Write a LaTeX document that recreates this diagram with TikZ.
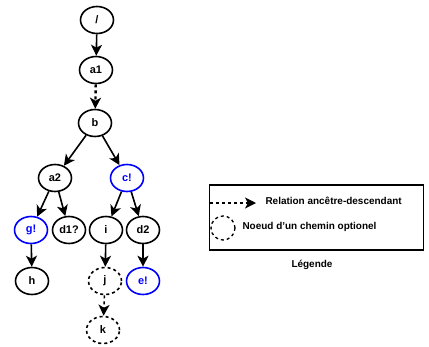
\documentclass[tikz,border=0pt]{standalone}
\usepackage{fontspec}
\setmainfont{Liberation Sans}
\usetikzlibrary{arrows.meta,shapes.geometric}

\tikzset{
    nd/.style={ellipse,draw,line width=1.6bp,minimum width=33bp,minimum height=27bp,inner sep=1pt,font=\bfseries\fontsize{11}{13}\selectfont},
    opt/.style={nd,dash pattern=on 3bp off 3bp},
    blu/.style={nd,draw=blue,text=blue},
    arr/.style={line width=1.6bp,-{Stealth[length=11bp,width=11bp,inset=3bp]}},
    darr/.style={arr,dash pattern=on 3bp off 3bp},
    legtxt/.style={font=\bfseries\fontsize{10}{12}\selectfont}
}

\begin{document}
\begin{tikzpicture}[x=1bp,y=-1bp]
                \useasboundingbox (0,0) rectangle (429,347);
                \node[nd] (root) at (97,20) {/};
                \node[nd] (a1) at (96,70) {a1};
                \node[nd] (b) at (95,123) {b};
                \node[nd] (a2) at (55,178) {a2};
                \node[blu] (c) at (127,178) {c!};
                \node[blu] (g) at (31,230) {g!};
                \node[nd] (d1) at (69,230) {d1?};
                \node[nd] (i) at (106,230) {i};
                \node[nd] (d2) at (143,230) {d2};
                \node[nd] (h) at (32,281) {h};
                \node[opt] (j) at (105,281) {j};
                \node[blu] (e) at (143,281) {e!};
                \node[opt] (k) at (103,330) {k};
                
                \draw[arr] (root) -- (a1);
                \draw[darr,line width=2.4bp] (a1) -- (b);
                \foreach \s/\t in {b/a2,b/c,a2/g,a2/d1,c/i,c/d2,g/h,i/j,d2/e}
                \draw[arr] (\s) -- (\t);
                \draw[darr] (j) -- (k);
                
                % legende
                \node[draw,line width=1.6bp,minimum width=214bp,minimum height=65bp] (leg) at (316.5,217.5) {};
                \coordinate (l1) at (210,203);
                \coordinate (l2) at (256,203);
                \draw[darr,line width=1.3bp] (l1) -- (l2);
                \node[anchor=west,legtxt] (t1) at (262,201) {Relation ancêtre-descendant};
                \node[circle,draw,dash pattern=on 3bp off 3bp,line width=1.3bp,minimum size=24bp] (oc) at (223,228) {};
                \node[anchor=west,legtxt] (t2) at (239,227) {Noeud d’un chemin optionel};
                \node[legtxt] (lg) at (312,265) {Légende};
                
            \end{tikzpicture}
\end{document}
